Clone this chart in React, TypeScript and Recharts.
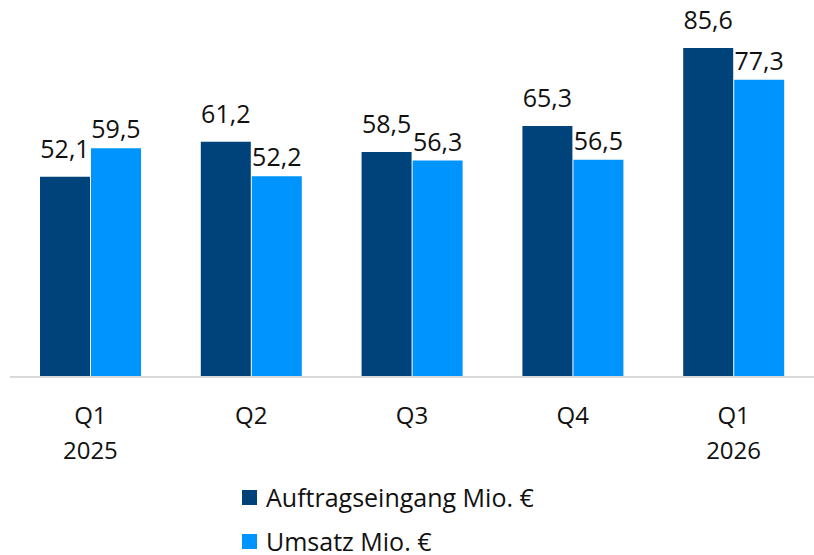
import React from 'react';
import { BarChart, Bar, XAxis, YAxis, LabelList, Legend } from 'recharts';

const quarters = ['Q1', 'Q2', 'Q3', 'Q4', 'Q1'];
const years = ['2025', '', '', '', '2026'];
const auftragseingang = [52.1, 61.2, 58.5, 65.3, 85.6];
const umsatz = [59.5, 52.2, 56.3, 56.5, 77.3];
const seriesNames = ['Auftragseingang Mio. €', 'Umsatz Mio. €'];

const DARK = '#00437A';
const LIGHT = '#0094FF';
const FONT = '"Open Sans", "Noto Sans", sans-serif';

const data = quarters.map((q, i) => ({
  key: `${q}-${i}`,
  quarter: q,
  year: years[i],
  a: auftragseingang[i],
  u: umsatz[i],
}));

const fmt = (v: any) => String(v).replace('.', ',');

const Tick = (props: any) => {
  const { x, y, payload } = props;
  const d = data[payload.index] || data.find((r) => r.key === payload.value);
  return (
    <g>
      <text x={x} y={y + 39} textAnchor="middle" fontSize={24} fill="#111" fontFamily={FONT}>
        {d ? d.quarter : ''}
      </text>
      {d && d.year ? (
        <text x={x} y={y + 74} textAnchor="middle" fontSize={24} fill="#111" fontFamily={FONT}>
          {d.year}
        </text>
      ) : null}
    </g>
  );
};

const LegendContent = () => (
  <div style={{ position: 'relative', height: 90, width: 814, fontFamily: FONT, fontSize: 25, color: '#111' }}>
    {[DARK, LIGHT].map((c, i) => (
      <div
        key={i}
        style={{ position: 'absolute', left: 242, top: 21 + i * 44, display: 'flex', alignItems: 'center', height: 22, lineHeight: '22px', whiteSpace: 'nowrap' }}
      >
        <span style={{ display: 'inline-block', width: 15, height: 15, background: c, marginRight: 9 }} />
        <span>{seriesNames[i]}</span>
      </div>
    ))}
  </div>
);

export default function App() {
  return (
    <div style={{ position: 'absolute', left: 0, top: 0, width: 814, height: 555, background: '#fff' }}>
      <BarChart
        width={814}
        height={555}
        data={data}
        margin={{ top: 31, right: 0, left: 10, bottom: 0 }}
        barGap={1}
        barCategoryGap={30}
      >
        <XAxis
          dataKey="key"
          height={88}
          tickLine={false}
          axisLine={{ stroke: '#D9D9D9', strokeWidth: 2 }}
          tick={<Tick />}
          interval={0}
        />
        <YAxis hide domain={[0, 90]} />
        <Legend
          verticalAlign="bottom"
          content={<LegendContent />}
          wrapperStyle={{ left: 0, width: 814, height: 90 }}
        />
        <Bar dataKey="a" name={seriesNames[0]} fill={DARK} barSize={50} isAnimationActive={false}>
          <LabelList dataKey="a" position="top" offset={19} formatter={fmt} style={{ fontSize: 25, fill: '#111', fontFamily: FONT }} />
        </Bar>
        <Bar dataKey="u" name={seriesNames[1]} fill={LIGHT} barSize={50} isAnimationActive={false}>
          <LabelList dataKey="u" position="top" offset={10} formatter={fmt} style={{ fontSize: 25, fill: '#111', fontFamily: FONT }} />
        </Bar>
      </BarChart>
    </div>
  );
}
